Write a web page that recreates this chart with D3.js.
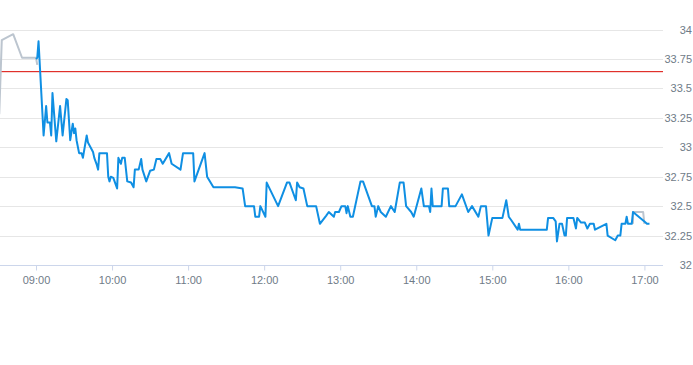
<!DOCTYPE html>
<html>
<head>
<meta charset="utf-8">
<script src="https://cdn.jsdelivr.net/npm/d3@7"></script>
<style>
  html, body { margin: 0; padding: 0; background: #fff; }
  svg { display: block; }
  text { font-family: "Liberation Sans", Arial, sans-serif; font-size: 11px; fill: #6f7b87; }
</style>
</head>
<body>
<svg id="chart" width="693" height="365"></svg>
<script>
// ---- data ----
const xTickLabels = ["09:00","10:00","11:00","12:00","13:00","14:00","15:00","16:00","17:00"];
const yTickValues = [32, 32.25, 32.5, 32.75, 33, 33.25, 33.5, 33.75, 34];
const prevClose = 33.65;

const preTimes  = ["08:31","08:33","08:42","08:49","09:00","09:01"];
const prePrices = [33.28, 33.91, 33.96, 33.76, 33.76, 33.70];

const postTimes  = ["16:51","16:51","16:59","17:00"];
const postPrices = [32.35, 32.45, 32.45, 32.35];

const mainTimes = [
 "09:00","09:01","09:02","09:06","09:08","09:09","09:11","09:12","09:13","09:16",
 "09:19","09:21","09:24","09:25","09:27","09:29","09:30","09:31","09:32","09:34",
 "09:36","09:37","09:40","09:41","09:43","09:45","09:46","09:48","09:49","09:50",
 "09:56","09:57","09:58","09:59","10:01","10:02","10:04","10:05","10:07","10:08",
 "10:10","10:12","10:15","10:17","10:18","10:21","10:23","10:24","10:27","10:30",
 "10:33","10:35","10:38","10:40","10:45","10:47","10:54","10:56","11:04","11:05",
 "11:13","11:15","11:20","11:37","11:43","11:45","11:52","11:53","11:56","11:57",
 "12:01","12:02","12:11","12:18","12:20","12:25","12:26","12:28","12:31","12:34",
 "12:41","12:44","12:49","12:51","12:55","12:56","12:59","13:01","13:04","13:05",
 "13:06","13:08","13:10","13:16","13:18","13:25","13:27","13:28","13:30","13:32",
 "13:36","13:40","13:43","13:47","13:50","13:52","13:56","13:58","14:04","14:06",
 "14:10","14:11","14:12","14:13","14:20","14:21","14:25","14:26","14:31","14:36",
 "14:41","14:44","14:49","14:51","14:55","14:57","15:00","15:08","15:11","15:13",
 "15:15","15:20","15:21","15:22","15:43","15:44","15:48","15:50","15:51","15:53",
 "15:55","15:57","15:58","15:59","16:04","16:06","16:07","16:10","16:13","16:15",
 "16:17","16:20","16:21","16:30","16:31","16:37","16:39","16:41","16:42","16:45",
 "16:46","16:47","16:50","16:51","17:00","17:02","17:04"
];
const mainPrices = [
 33.75,33.76,33.90,33.10,33.35,33.21,33.21,33.10,33.46,33.05,
 33.35,33.10,33.41,33.40,33.06,33.20,33.12,33.16,33.06,32.95,
 32.95,32.91,33.10,33.04,33.00,32.96,32.91,32.85,32.81,32.95,
 32.95,32.75,32.71,32.75,32.74,32.71,32.65,32.91,32.86,32.91,
 32.91,32.71,32.70,32.66,32.81,32.81,32.90,32.81,32.71,32.80,
 32.81,32.90,32.90,32.86,32.95,32.86,32.81,32.95,32.95,32.71,
 32.95,32.75,32.66,32.66,32.65,32.50,32.50,32.41,32.41,32.50,
 32.41,32.70,32.50,32.70,32.70,32.55,32.70,32.66,32.65,32.50,
 32.50,32.35,32.42,32.45,32.41,32.45,32.45,32.50,32.50,32.44,
 32.50,32.41,32.41,32.71,32.71,32.50,32.50,32.41,32.50,32.45,
 32.41,32.50,32.45,32.70,32.70,32.50,32.45,32.41,32.65,32.50,
 32.50,32.45,32.65,32.50,32.50,32.65,32.65,32.50,32.50,32.60,
 32.45,32.50,32.41,32.50,32.50,32.25,32.40,32.40,32.55,32.41,
 32.38,32.30,32.35,32.30,32.30,32.40,32.40,32.37,32.20,32.35,
 32.35,32.25,32.25,32.40,32.40,32.31,32.40,32.36,32.36,32.31,
 32.35,32.35,32.30,32.35,32.25,32.21,32.25,32.25,32.35,32.35,
 32.41,32.35,32.35,32.45,32.37,32.35,32.35
];

// ---- chart ----
const parse = d3.timeParse("%H:%M");
const parseS = d3.timeParse("%H:%M:%S");
const svg = d3.select("#chart");

const plot = { left: 0, right: 663, top: 29.5, bottom: 265 };

const x = d3.scaleTime()
  .domain([parseS("08:31:36"), parseS("17:14:40")])
  .range([plot.left, plot.right]);
const y = d3.scaleLinear()
  .domain([32, 34])
  .range([plot.bottom, plot.top]);

// grid lines
svg.append("g").selectAll("line")
  .data(yTickValues.filter(v => v !== 32))
  .join("line")
  .attr("x1", plot.left).attr("x2", plot.right)
  .attr("y1", d => Math.round(y(d)) + 0.5).attr("y2", d => Math.round(y(d)) + 0.5)
  .attr("stroke", "#e6e6e6").attr("stroke-width", 1);

// y labels (right side)
svg.append("g").selectAll("text")
  .data(yTickValues)
  .join("text")
  .attr("x", 692)
  .attr("y", d => y(d) + 4)
  .attr("text-anchor", "end")
  .text(d => d3.format("")(d));

// x axis
const xAxis = d3.axisBottom(x)
  .tickValues(xTickLabels.map(parse))
  .tickFormat(d3.timeFormat("%H:%M"))
  .tickSize(5)
  .tickPadding(6);
const gx = svg.append("g")
  .attr("transform", `translate(0,${Math.round(plot.bottom) + 0.5})`)
  .call(xAxis);
gx.select(".domain").attr("stroke", "#ccd6eb").attr("d", `M${plot.left},0H${plot.right}`);
gx.selectAll(".tick line").attr("stroke", "#ccd6eb");
gx.selectAll(".tick text")
  .attr("font-family", "'Liberation Sans', Arial, sans-serif")
  .attr("font-size", 11)
  .attr("fill", "#6f7b87")
  .attr("dy", "0.71em");

// previous close line
svg.append("rect")
  .attr("x", plot.left).attr("width", plot.right - plot.left)
  .attr("y", Math.round(y(prevClose))).attr("height", 1.2)
  .attr("fill", "#e0302b");

const line = d3.line()
  .x(d => x(d[0]))
  .y(d => y(d[1]));

const pre = preTimes.map((t, i) => [parse(t), prePrices[i]]);
const post = postTimes.map((t, i) => [parse(t), postPrices[i]]);
const main = mainTimes.map((t, i) => [parse(t), mainPrices[i]]);

svg.append("path").datum(pre).attr("d", line)
  .attr("fill", "none").attr("stroke", "#bcc5cf").attr("stroke-width", 2)
  .attr("stroke-linejoin", "round");
svg.append("path").datum(post).attr("d", line)
  .attr("fill", "none").attr("stroke", "#bcc5cf").attr("stroke-width", 2)
  .attr("stroke-linejoin", "round");
svg.append("path").datum(main).attr("d", line)
  .attr("fill", "none").attr("stroke", "#0f8fe3").attr("stroke-width", 2)
  .attr("stroke-linejoin", "round");
</script>
</body>
</html>
